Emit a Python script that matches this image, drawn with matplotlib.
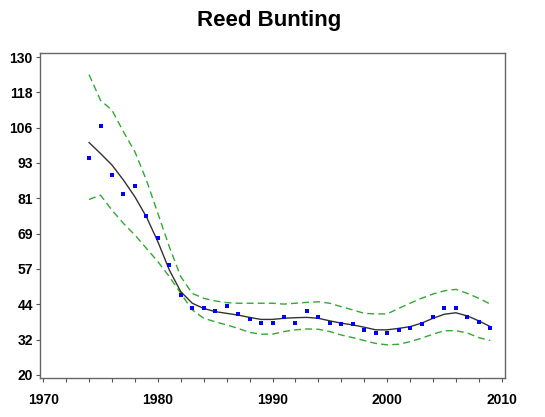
import numpy as np
import matplotlib.pyplot as plt
from matplotlib.ticker import MultipleLocator

# Reed Bunting index with smoothed trend and confidence band
years = list(range(1974, 2010))
observed = [94.9, 106.2, 89.2, 82.7, 85.4, 75.1, 67.5, 58.0, 47.6, 43.3,
            43.3, 42.1, 44.0, 41.2, 39.4, 38.1, 38.1, 40.0, 38.1, 42.1,
            40.0, 38.1, 37.5, 37.5, 35.6, 34.5, 34.5, 35.6, 36.4, 37.5,
            40.0, 43.2, 43.2, 40.0, 38.2, 36.1]
trend = [100.4, 96.6, 92.6, 87.4, 81.6, 74.7, 66.1, 56.3, 48.8, 44.8,
         43.0, 41.9, 41.3, 40.7, 39.9, 39.2, 39.2, 39.6, 39.8, 39.9,
         39.6, 38.7, 37.9, 37.3, 36.5, 35.6, 35.6, 36.1, 36.7, 37.9,
         39.6, 41.0, 41.5, 40.4, 38.7, 36.7]
upper = [123.9, 115.0, 111.6, 104.1, 97.2, 87.4, 75.9, 64.3, 54.0, 48.2,
         46.5, 45.6, 45.0, 44.8, 44.8, 44.8, 44.8, 44.5, 44.8, 45.1,
         45.3, 44.8, 43.6, 42.5, 41.3, 41.1, 41.1, 43.0, 44.8, 46.5,
         48.0, 49.1, 49.6, 48.2, 46.5, 44.5]
lower = [80.7, 82.2, 77.0, 72.4, 68.4, 63.8, 59.2, 54.0, 48.2, 42.5,
         39.6, 38.4, 37.3, 36.1, 34.7, 34.1, 34.1, 35.0, 35.6, 35.9,
         35.8, 35.0, 33.8, 32.9, 31.9, 30.9, 30.4, 30.6, 31.5, 32.7,
         34.1, 35.3, 35.3, 34.5, 32.9, 31.9]

fig = plt.figure(figsize=(5.45, 4.17), dpi=100)
ax = fig.add_axes([0.073, 0.094, 0.854, 0.779])
plt.rcParams['font.family'] = ['Liberation Sans', 'DejaVu Sans']

green = "#33a833"
ax.plot(years, upper, color=green, linestyle=(0, (5, 3)), linewidth=1.0)
ax.plot(years, lower, color=green, linestyle=(0, (5, 3)), linewidth=1.0)
ax.plot(years, trend, color="#333333", linewidth=1.0)
ax.plot(years, observed, linestyle="none", marker="s", markersize=3,
        color="#0000ff", markeredgewidth=0)

ax.set_xlim(1969.7, 2010.3)
ax.set_ylim(19.0, 131.4)

yticks = np.linspace(20, 130, 10)
ax.set_yticks(yticks)
ax.set_yticklabels([str(int(round(v))) for v in yticks], family="Liberation Sans",
                   fontsize=10, fontweight="bold")
ax.set_xticks([1970, 1980, 1990, 2000, 2010])
ax.set_xticklabels(["1970", "1980", "1990", "2000", "2010"], family="Liberation Sans",
                   fontsize=10, fontweight="bold")
ax.xaxis.set_minor_locator(MultipleLocator(2))
ax.tick_params(axis="both", which="both", length=3, width=0.8, color="#555555", pad=2)
ax.tick_params(axis="x", which="major", pad=8)

for side in ax.spines.values():
    side.set_color("#666666")
    side.set_linewidth(1.0)

fig.text(0.493, 0.952, "Reed Bunting", ha="center", va="center",
         fontsize=16, fontweight="bold", family="Liberation Sans")

fig.savefig("out.png", dpi=100)
